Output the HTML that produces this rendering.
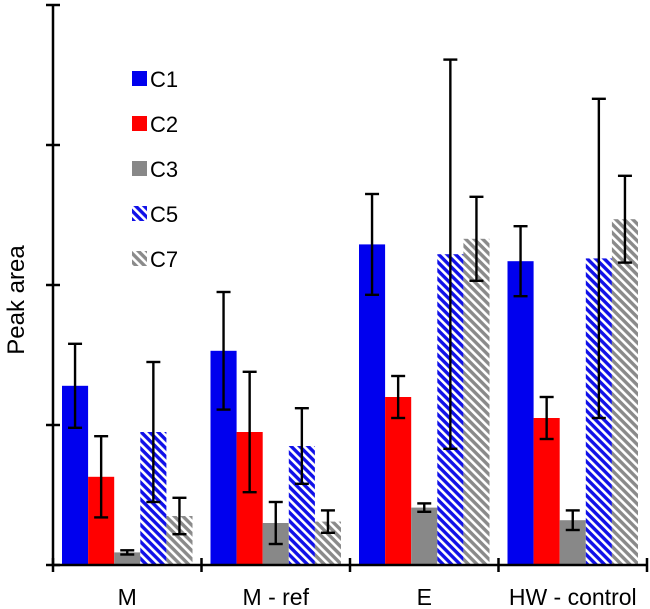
<!DOCTYPE html>
<html><head><meta charset="utf-8"><style>
html,body{margin:0;padding:0;background:#fff;}
svg{display:block;font-family:"Liberation Sans",Arial,sans-serif;}
</style></head><body>
<svg id="chart" width="650" height="609" viewBox="0 0 650 609">
<defs>
<pattern id="stripeBlue" width="6" height="6" patternUnits="userSpaceOnUse" patternTransform="rotate(-45)">
<rect width="6" height="6" fill="#1010e8"/><rect width="2.6" height="6" fill="#fff"/></pattern>
<pattern id="stripeGray" width="6" height="6" patternUnits="userSpaceOnUse" patternTransform="rotate(-45)">
<rect width="6" height="6" fill="#8a8a8a"/><rect width="2.6" height="6" fill="#fff"/></pattern>
</defs>
<g id="bars"></g>
<g id="axes"></g>
<g id="legend"></g>
</svg>
<script>
const categories = ["M", "M - ref", "E", "HW - control"];
const seriesNames = ["C1", "C2", "C3", "C5", "C7"];
const c1Values = [1.28, 1.53, 2.29, 2.17];
const c1Errors = [0.30, 0.42, 0.36, 0.25];
const c2Values = [0.63, 0.95, 1.20, 1.05];
const c2Errors = [0.29, 0.43, 0.15, 0.15];
const c3Values = [0.09, 0.30, 0.41, 0.32];
const c3Errors = [0.015, 0.15, 0.03, 0.07];
const c5Values = [0.95, 0.85, 2.22, 2.19];
const c5Errors = [0.50, 0.27, 1.39, 1.14];
const c7Values = [0.35, 0.31, 2.33, 2.47];
const c7Errors = [0.13, 0.08, 0.30, 0.31];
const yTicks = [0, 1, 2, 3, 4];

const NS = "http://www.w3.org/2000/svg";
const values = [c1Values, c2Values, c3Values, c5Values, c7Values];
const errors = [c1Errors, c2Errors, c3Errors, c5Errors, c7Errors];
const fills = ["#0000ee", "#ff0000", "#888888", "url(#stripeBlue)", "url(#stripeGray)"];
const x0 = 53, x1 = 647, y0 = 565, yTop = 5, yMax = 4;
const groupW = (x1 - x0) / categories.length;
const pad = 9, barW = (groupW - 2 * pad) / seriesNames.length;
function yScale(v) { return y0 - v / yMax * (y0 - yTop); }
function el(tag, attrs, parent) {
  const e = document.createElementNS(NS, tag);
  for (const k in attrs) e.setAttribute(k, attrs[k]);
  parent.appendChild(e); return e;
}
const bars = document.getElementById("bars");
const axes = document.getElementById("axes");
const legend = document.getElementById("legend");
categories.forEach((cat, ci) => {
  values.forEach((arr, si) => {
    const v = arr[ci], e = errors[si][ci];
    const x = x0 + ci * groupW + pad + si * barW;
    const r = el("rect", {x: x, y: yScale(v), width: barW, height: y0 - yScale(v), fill: fills[si]}, bars);
    
    
    const cx = x + barW / 2;
    const g = el("g", {stroke: "#000", "stroke-width": 2.4}, bars);
    
    
    el("line", {x1: cx, x2: cx, y1: yScale(v + e), y2: yScale(v - e)}, g);
    el("line", {x1: cx - 7, x2: cx + 7, y1: yScale(v + e), y2: yScale(v + e)}, g);
    el("line", {x1: cx - 7, x2: cx + 7, y1: yScale(v - e), y2: yScale(v - e)}, g);
  });
  const t = el("text", {x: x0 + (ci + 0.5) * groupW, y: 605, "text-anchor": "middle", "font-size": 23, fill: "#000"}, axes);
  t.textContent = cat;
  
  
});
const ya = el("line", {x1: x0, x2: x0, y1: yTop, y2: y0, stroke: "#000", "stroke-width": 2.5}, axes);


const xa = el("line", {x1: x0, x2: x1, y1: y0, y2: y0, stroke: "#000", "stroke-width": 2.5}, axes);


yTicks.forEach(v => {
  const t = el("line", {x1: x0 - 7, x2: x0 + 7, y1: yScale(v), y2: yScale(v), stroke: "#000", "stroke-width": 2.5}, axes);
  
  
});
for (let i = 0; i <= categories.length; i++) {
  const x = x0 + i * groupW;
  const t = el("line", {x1: x, x2: x, y1: y0 - 7, y2: y0 + 7, stroke: "#000", "stroke-width": 2.5}, axes);
  
  
}
const yl = el("text", {x: 0, y: 0, transform: "translate(24,300) rotate(-90)", "text-anchor": "middle", "font-size": 24, fill: "#000"}, axes);
yl.textContent = "Peak area";


seriesNames.forEach((n, i) => {
  const y = 79 + i * 45;
  const g = el("g", {}, legend);
  
  
  el("rect", {x: 132, y: y - 8, width: 15, height: 15, fill: fills[i]}, g);
  const t = el("text", {x: 150, y: y + 8, "font-size": 22, fill: "#000"}, g);
  t.textContent = n;
});
</script>
</body></html>
